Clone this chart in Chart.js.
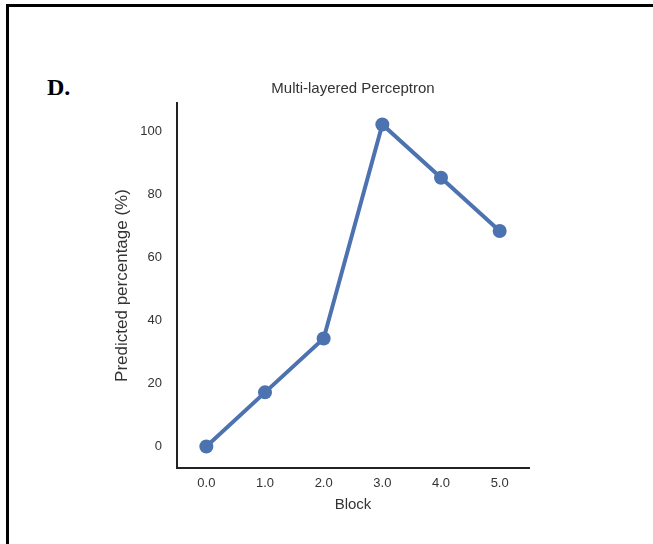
<!DOCTYPE html>
<html>
<head>
<meta charset="utf-8">
<script src="https://cdn.jsdelivr.net/npm/chart.js@4"></script>
<style>
    body { margin: 0; background: #fff; }
    #wrap { position: relative; width: 653px; height: 544px; overflow: hidden; }
    #frame { position: absolute; left: 6px; top: 4px; width: 700px; height: 600px;
             border-top: 3px solid #000; border-left: 3px solid #000; }
    #panel { position: absolute; left: 47px; top: 74px; font: bold 24px "Liberation Serif", "Times New Roman", serif; color: #000; }
    canvas { position: absolute; left: 0; top: 0; }
</style>
</head>
<body>
<div id="wrap">
    <div id="frame"></div>
    <div id="panel">D.</div>
    <canvas id="lineChart" width="653" height="544"></canvas>
</div>
<script>
// data
const blocks = ['0.0', '1.0', '2.0', '3.0', '4.0', '5.0'];
const predicted = [0, 17.2, 34.3, 102.2, 85.3, 68.4];
const yTicks = [0, 20, 40, 60, 80, 100];
const chartTitle = 'Multi-layered Perceptron';

const blue = '#4c72b0';
const textColor = '#333';
const font = '"Liberation Sans", Arial, sans-serif';

// title centred over the plot area, like matplotlib does
const axesTitle = {
    id: 'axesTitle',
    afterDraw(chart) {
        const ctx = chart.ctx;
        const area = chart.chartArea;
        ctx.save();
        ctx.font = '15px ' + font;
        ctx.fillStyle = textColor;
        ctx.textAlign = 'center';
        ctx.textBaseline = 'middle';
        ctx.fillText(chartTitle, (area.left + area.right) / 2, 89);
        ctx.restore();
    }
};

var ctx = document.getElementById('lineChart').getContext('2d');
new Chart(ctx, {
    type: 'line',
    data: {
        labels: blocks,
        datasets: [{
            data: predicted,
            borderColor: blue,
            backgroundColor: blue,
            borderWidth: 4,
            pointRadius: 7,
            pointBorderWidth: 0,
            pointBackgroundColor: blue,
            tension: 0,
            fill: false
        }]
    },
    options: {
        responsive: false,
        animation: false,
        layout: { padding: { top: 103, right: 124, left: 0, bottom: 0 } },
        plugins: {
            legend: { display: false },
            tooltip: { enabled: false },
            title: { display: false }
        },
        scales: {
            x: {
                type: 'category',
                offset: true,
                grid: { display: false, drawTicks: false },
                border: { display: true, color: '#222', width: 2 },
                ticks: { color: textColor, font: { family: font, size: 13 }, padding: 8 },
                title: { display: true, text: 'Block', color: textColor,
                         font: { family: font, size: 15 }, padding: { top: 0, bottom: 30 } },
                afterFit: s => { s.height = 76; }
            },
            y: {
                min: -6.8,
                max: 109,
                grid: { display: false, drawTicks: false },
                border: { display: true, color: '#222', width: 2 },
                ticks: { color: textColor, font: { family: font, size: 13 }, padding: 15 },
                afterBuildTicks: s => { s.ticks = yTicks.map(v => ({ value: v })); },
                title: { display: true, text: 'Predicted percentage (%)', color: textColor,
                         font: { family: font, size: 17 }, padding: { top: 112, bottom: 0 } },
                afterFit: s => { s.width = 177; }
            }
        }
    },
    plugins: [axesTitle]
});
</script>
</body>
</html>
